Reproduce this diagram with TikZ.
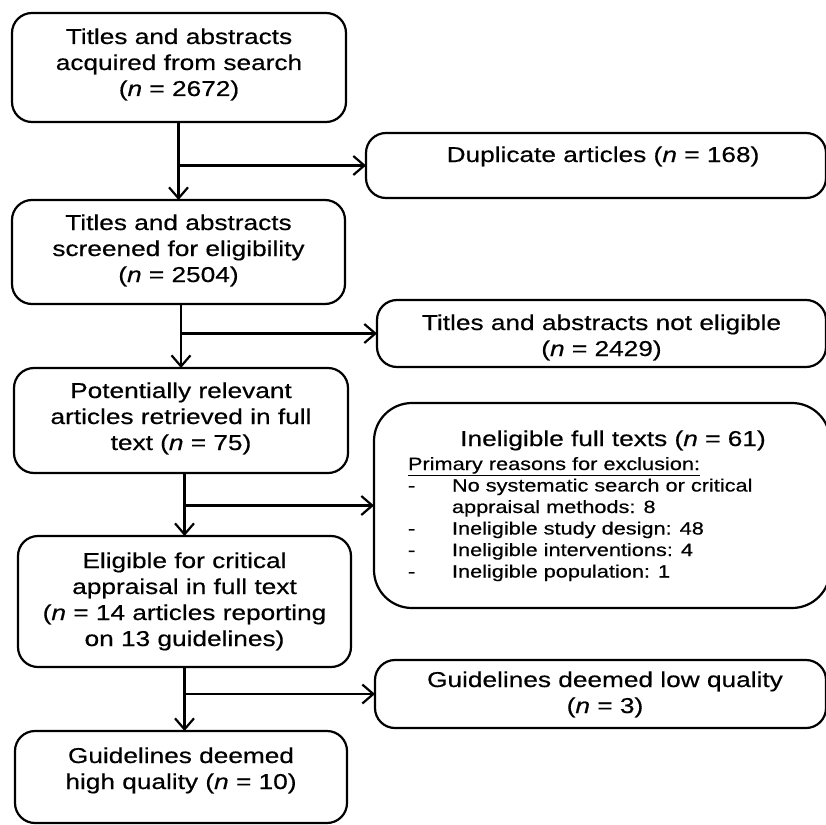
\documentclass[tikz,border=0pt]{standalone}
\usepackage{fontspec}
\setmainfont{Liberation Sans}[FakeStretch=1.22, FakeBold=0.5]
\usetikzlibrary{arrows.meta}
\newcommand{\mylines}[1]{\begin{tabular}[t]{@{}c@{}}#1\end{tabular}}
\newcommand{\nn}{\textit{n}}
\tikzset{
  box/.style={draw=black, line width=2.2pt, rounded corners=20pt, inner sep=0pt, outer sep=0pt},
  bigbox/.style={box, rounded corners=38pt},
  txt/.style={inner sep=0pt, outer sep=0pt, anchor=base, font=\fontsize{21.5}{26}\selectfont},
  smalltxt/.style={inner sep=0pt, outer sep=0pt, anchor=base west, font=\fontsize{17.8}{21.5}\selectfont},
  arr/.style={draw=black, line width=2.2pt, -{Straight Barb[length=11pt,width=19pt]}}
}
\begin{document}
\begin{tikzpicture}[x=1pt, y=-1pt]
\useasboundingbox (0,0) rectangle (826,824);
\clip (0,0) rectangle (826,824);
\fill[white] (0,0) rectangle (826,824);
% left boxes
\node[box, minimum width=334pt, minimum height=109pt] (b1) at (179,67.5) {};
\node[box, minimum width=333pt, minimum height=104pt] (b2) at (178.5,252) {};
\node[box, minimum width=334pt, minimum height=105pt] (b3) at (181,420.5) {};
\node[box, minimum width=333pt, minimum height=131pt] (b4) at (184.5,601.5) {};
\node[box, minimum width=332pt, minimum height=92pt] (b5) at (181,777) {};
% right boxes
\node[box, minimum width=460pt, minimum height=65pt] (dup) at (596,165.5) {};
\node[box, minimum width=449pt, minimum height=67pt] (nel) at (601.5,333.5) {};
\node[bigbox, minimum width=456pt, minimum height=205pt] (inel) at (602,505.5) {};
\node[box, minimum width=451pt, minimum height=68pt] (low) at (600.5,694) {};
% texts
\node[txt] (t1) at (179,44) {\mylines{Titles and abstracts\\acquired from search\\(\nn\ = 2672)}};
\node[txt] (t2) at (178.5,230) {\mylines{Titles and abstracts\\screened for eligibility\\(\nn\ = 2504)}};
\node[txt] (t3) at (181,398) {\mylines{Potentially relevant\\articles retrieved in full\\text (\nn\ = 75)}};
\node[txt] (t4) at (184.5,568) {\mylines{Eligible for critical\\appraisal in full text\\(\nn\ = 14 articles reporting\\on 13 guidelines)}};
\node[txt] (t5) at (181,763) {\mylines{Guidelines deemed\\high quality (\nn\ = 10)}};
\node[txt] (td) at (603,162) {Duplicate articles (\nn\ = 168)};
\node[txt] (tn) at (601.5,330) {\mylines{Titles and abstracts not eligible\\(\nn\ = 2429)}};
\node[txt] (ti) at (613,446) {Ineligible full texts (\nn\ = 61)};
\node[smalltxt] (tl) at (408,470) {\begin{tabular}[t]{@{}p{44pt}@{}l@{}}
\multicolumn{2}{@{}l@{}}{\underline{Primary reasons for exclusion:}}\\
- & No systematic search or critical\\
 & appraisal methods: 8\\
- & Ineligible study design: 48\\
- & Ineligible interventions: 4\\
- & Ineligible population: 1
\end{tabular}};
\node[txt] (tlow) at (605,687) {\mylines{Guidelines deemed low quality\\(\nn\ = 3)}};
% connectors
\draw[arr] (b1.south -| b2.north) -- (b2.north);
\draw[arr] (dup.west -| b2.north) -- (dup.west);
\draw[arr] (b2.south -| b3.north) -- (b3.north);
\draw[arr] (nel.west -| b3.north) -- (nel.west);
\draw[arr] (b3.south -| b4.north) -- (b4.north);
\draw[arr] (inel.west -| b4.north) -- (inel.west);
\draw[arr] (b4.south) -- (b5.north -| b4.south);
\draw[arr] (low.west -| b4.south) -- (low.west);
\end{tikzpicture}
\end{document}
